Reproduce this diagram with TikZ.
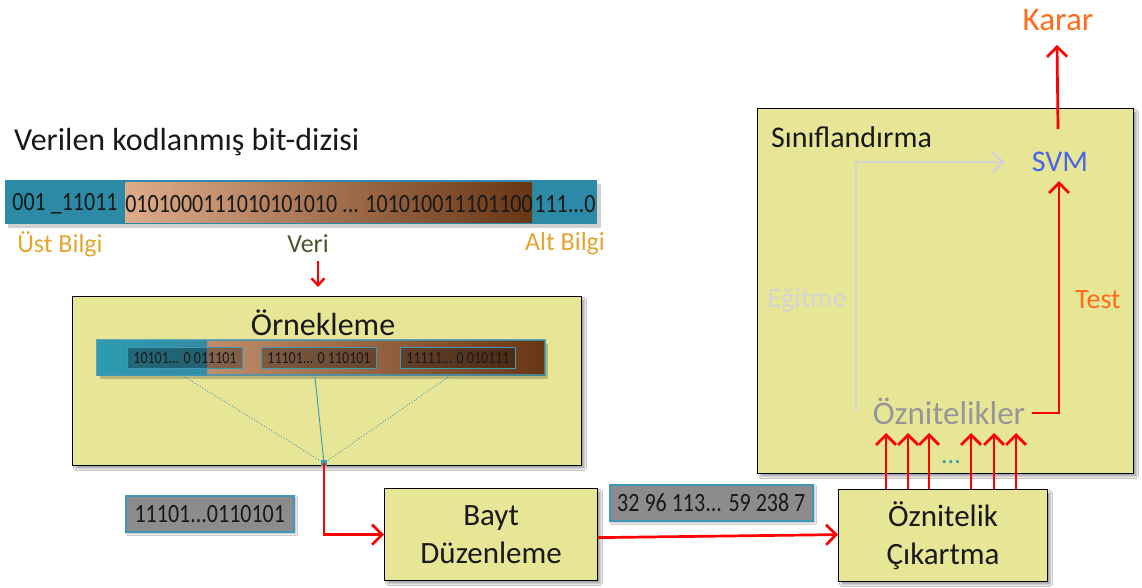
\documentclass[tikz,border=0pt]{standalone}
\usepackage{fontspec}
\setmainfont{Carlito}
\usetikzlibrary{arrows.meta,shadows.blur,calc}

\definecolor{boxfill}{RGB}{230,230,150}
\definecolor{tealbar}{RGB}{44,138,166}
\definecolor{tealedge}{RGB}{62,152,182}
\definecolor{tanlight}{RGB}{222,172,138}
\definecolor{brownmid}{RGB}{178,98,52}
\definecolor{browndark}{RGB}{104,54,20}
\definecolor{goldlabel}{RGB}{226,166,48}
\definecolor{olivelabel}{RGB}{76,86,40}
\definecolor{orangelabel}{RGB}{255,108,30}
\definecolor{svmblue}{RGB}{72,102,232}
\definecolor{featgray}{RGB}{150,150,150}
\definecolor{traingray}{RGB}{212,212,212}
\definecolor{chipgray}{RGB}{140,140,140}
\definecolor{inktext}{RGB}{25,25,25}

% font size with a matching line spacing
\newcommand{\fs}[1]{\fontsize{#1}{\fpeval{#1*1.2}}\selectfont}
% digits drawn a little taller than the font gives them
\newcommand{\tall}[1]{\scalebox{1}[1.2]{#1}}

\begin{document}
\begin{tikzpicture}[x=1pt,y=-1pt,
  stagebox/.style={draw=black,line width=1.2pt,fill=boxfill,inner sep=0pt,
    blur shadow={shadow xshift=3pt,shadow yshift=-3pt,shadow blur steps=6,shadow opacity=35}},
  chip/.style={draw=tealedge,line width=1.6pt,fill=chipgray,inner sep=0pt,
    text=inktext,font=\fs{22},
    blur shadow={shadow xshift=2pt,shadow yshift=-2pt,shadow blur steps=5,shadow opacity=30}},
  redarrow/.style={draw=red,line width=2.7pt,
    -{Straight Barb[length=10pt,width=20pt,line width=2.7pt]}},
  grayarrow/.style={draw=traingray,line width=2.7pt,
    -{Straight Barb[length=10pt,width=20pt,line width=2.7pt]}},
  samplebox/.style={draw=tealedge,line width=1.2pt,fill=black,fill opacity=0.3,
    text opacity=1,inner sep=0pt,minimum width=115pt,minimum height=21pt,
    font=\fs{14},text=inktext},
  samplelink/.style={draw=tealedge,line width=0.9pt},
  barlabel/.style={font=\fs{26},inner sep=0pt},
  boxtitle/.style={font=\fs{32},text=inktext}
]
\useasboundingbox (0,0) rectangle (1142,587);
\fill[white] (0,0) rectangle (1142,587);

% ---------- coded bit string ----------
\node[anchor=west,font=\fs{32},text=inktext,inner sep=0pt] (title) at (14,142) {Verilen kodlanmış bit-dizisi};

\fill[black,opacity=0.18] (8,184) rectangle (601,228);
\fill[tealbar] (5,180) rectangle (597,224);
\shade[left color=tanlight,middle color=brownmid,right color=browndark,shading=axis]
  (125,182) rectangle (532,222);
\node[font=\fs{22},inner sep=0pt,text=inktext] (hdr) at (65,204) {\tall{001 \_11011}};
\node[font=\fs{22},inner sep=0pt,text=inktext] (data) at (329,204) {\tall{0101000111010101010 ... 101010011101100}};
\node[font=\fs{22},inner sep=0pt,text=inktext] (ftr) at (565,204) {\tall{111...0}};

\node[barlabel,text=goldlabel] (ust) at (60,244) {Üst Bilgi};
\node[barlabel,text=olivelabel] (veri) at (308,244) {Veri};
\node[barlabel,text=goldlabel] (alt) at (565,244) {Alt Bilgi};

\coordinate (veritip) at (318,287);
\draw[draw=red,line width=2.4pt,-{Straight Barb[length=7pt,width=13pt,line width=2.4pt]}]
  ($(veri.south)+(10,8)$) -- (veritip);

% ---------- sampling stage ----------
\node[stagebox,anchor=north west,minimum width=509pt,minimum height=169pt] (ornek) at (72,296) {};
\node[boxtitle] (ornektitle) at (323,323) {Örnekleme};

\fill[black,opacity=0.2] (100,344) rectangle (548,379);
\shade[left color=tanlight,middle color=brownmid,right color=browndark,shading=axis]
  (97,340) rectangle (545,375);
\shade[left color=tealbar!85!cyan,right color=tealbar,opacity=0.95] (97,340) rectangle (207,375);
\draw[tealedge,line width=1.2pt,opacity=0.8] (97,340) rectangle (545,375);

\node[samplebox] (s1) at (185,358) {\tall{10101... 0 011101}};
\node[samplebox] (s2) at (319,358) {\tall{11101... 0 110101}};
\node[samplebox] (s3) at (458,358) {\tall{11111... 0 010111}};

\coordinate (merge) at (324,463);
\draw[samplelink,dotted] ($(s1.south)+(0,8)$) -- (merge);
\draw[samplelink] ($(s2.south)+(-4,8)$) -- (merge);
\draw[samplelink,dotted] ($(s3.south)+(-10,8)$) -- (merge);
\fill[tealedge] ($(merge)+(-3,-3)$) rectangle ($(merge)+(3,3)$);

% ---------- byte arrangement ----------
\node[chip,anchor=north west,minimum width=168pt,minimum height=36pt] (chipa) at (125,495) {\tall{11101...0110101}};
\node[stagebox,anchor=north west,minimum width=213pt,minimum height=92pt,
  text=inktext,align=center,font={\fontsize{31}{38}\selectfont}] (bayt) at (384,488) {Bayt\\Düzenleme};
\draw[redarrow] (merge) |- (bayt.west);

\node[chip,anchor=north west,minimum width=203pt,minimum height=36pt] (chipb) at (609,484) {\tall{32 96 113... 59 238 7}};

% ---------- feature extraction ----------
\node[stagebox,anchor=north west,minimum width=209pt,minimum height=92pt,
  text=inktext,align=center,font={\fontsize{31}{38}\selectfont}] (ozc) at (838,489) {Öznitelik\\Çıkartma};
\draw[redarrow] ($(bayt.east)+(0,3)$) -- ($(ozc.west)+(0,-1)$);

% ---------- classification ----------
\node[stagebox,anchor=north west,minimum width=376pt,minimum height=365pt] (sinif) at (757,108) {};
\node[anchor=west,font=\fs{30},text=inktext,inner sep=0pt] (siniftitle) at (771,137) {Sınıflandırma};

\node[font=\fs{30},text=svmblue,inner sep=2pt] (svm) at (1060,162) {SVM};
\node[font=\fs{33},text=featgray,inner sep=2pt] (feat) at (949,411) {Öznitelikler};
\node[font=\fs{33},text=orangelabel,inner sep=2pt] (karar) at (1058,20) {Karar};
\node[font=\fs{28},text=traingray,inner sep=0pt] (egit) at (807,300) {Eğitme};
\node[font=\fs{28},text=orangelabel,inner sep=0pt] (test) at (1098,300) {Test};
\node[font=\fs{26},text=tealedge,inner sep=0pt] (dots) at (951,462) {...};

\coordinate (svmfoot) at (1058,129);
\draw[redarrow] (svmfoot) -- ($(karar.south)+(-1,12)$);

\coordinate (trainfoot) at (856,411);
\draw[grayarrow] (trainfoot) |- ($(svm.west)+(-25,0)$);

\draw[redarrow] ($(feat.east)+(5,2)$) -| ($(svm.south)+(-1,7)$);

\foreach \xa in {886,908,929,971,994,1016}
  \draw[redarrow] (ozc.north -| \xa,0) -- ++(0,-56);

\end{tikzpicture}
\end{document}
